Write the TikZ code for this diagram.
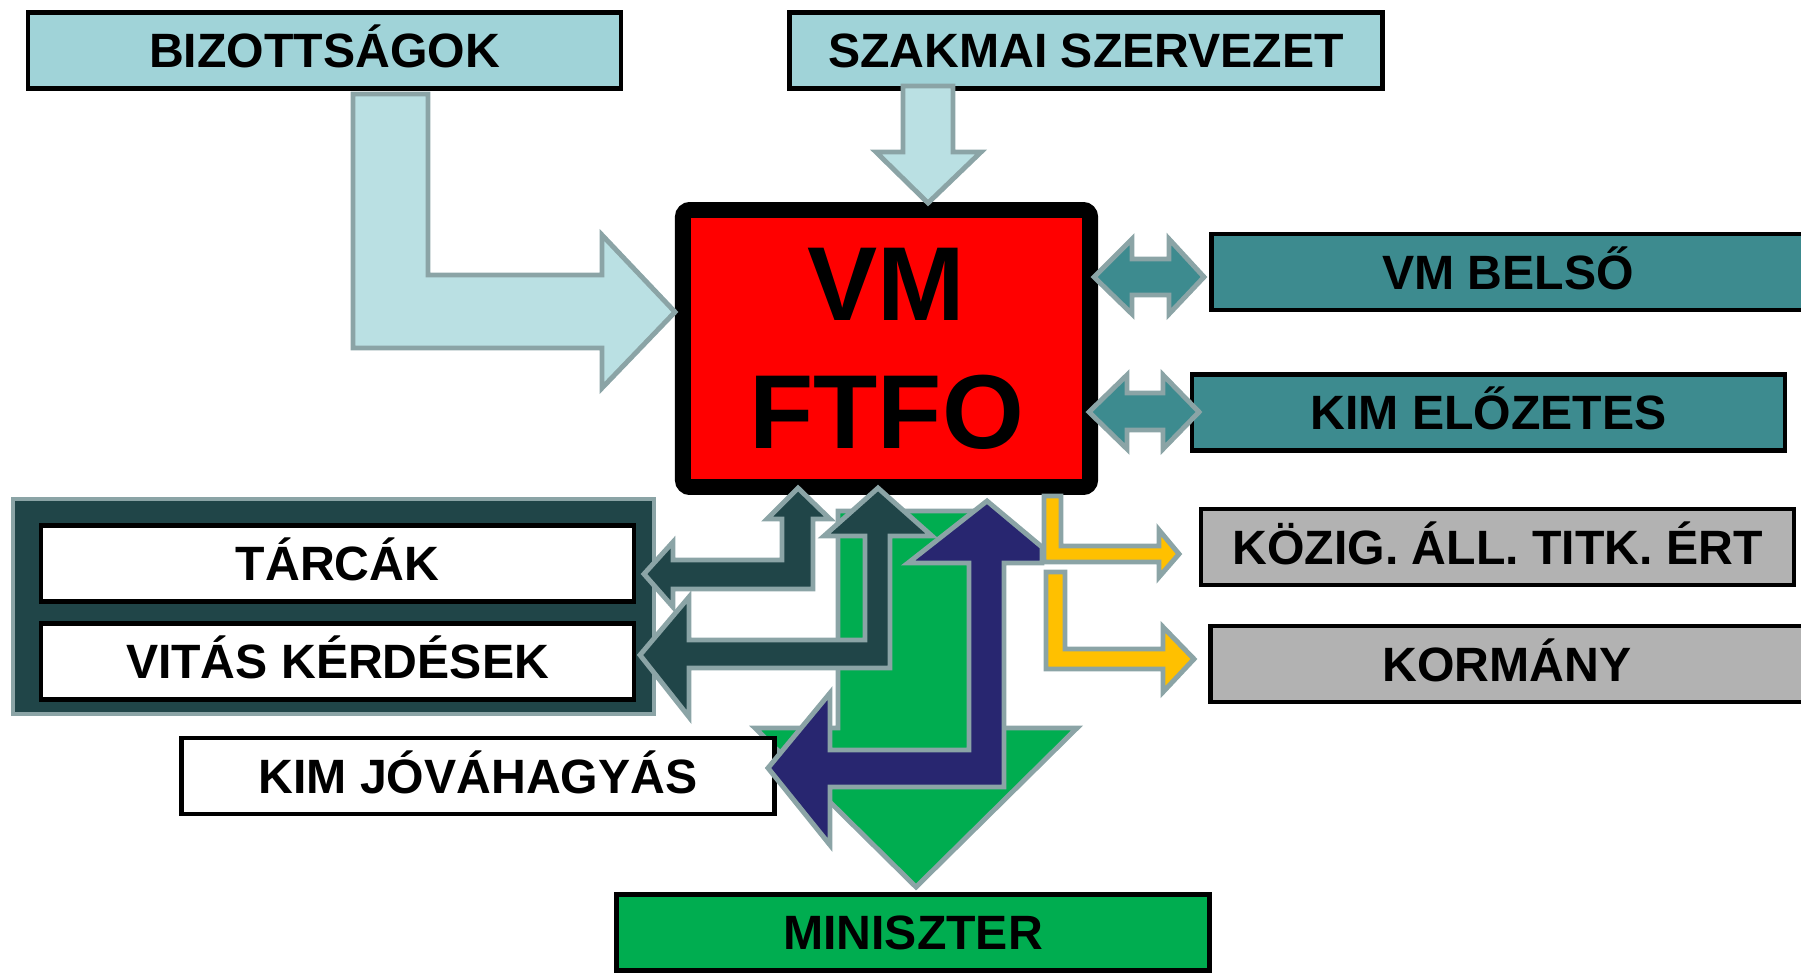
\documentclass[tikz,border=0pt]{standalone}
\usepackage{fontspec}
\setmainfont{Liberation Sans}
\usepackage{tikz}
\definecolor{lightteal}{HTML}{A0D3D8}
\definecolor{paleteal}{HTML}{BAE0E3}
\definecolor{midteal}{HTML}{3D8B8F}
\definecolor{darkteal}{HTML}{204548}
\definecolor{edgegray}{HTML}{8BA4A6}
\definecolor{navy}{HTML}{282670}
\definecolor{mgreen}{HTML}{00AD50}
\definecolor{myellow}{HTML}{FFC000}
\definecolor{boxgray}{HTML}{B2B2B2}
\tikzset{box/.style = {shape=rectangle,draw=black,line width=1.3pt,minimum width=5.93cm,minimum height=0.76cm,inner sep=0pt,text height=0.34cm,text depth=0cm,font=\fontsize{13.7}{16}\selectfont\bfseries}}
\tikzset{blockarrow/.style = {draw=edgegray,line width=1.4pt}}

\begin{document}
\begin{tikzpicture}[x=0.01cm,y=-0.01cm]
                \useasboundingbox (0,0) rectangle (1801,973);

                \node[shape=rectangle,fill=darkteal,draw=edgegray,line width=1.1pt,minimum width=6.41cm,minimum height=2.15cm] (grp) at (333.5,606.5) {};

                \draw[blockarrow,fill=mgreen] (838,511) -- (994,511) -- (994,728) -- (1077,728) -- (916,887) -- (755,728) -- (838,728) -- cycle;

                \node[box,fill=lightteal] (bizott) at (324.5,50.5) {BIZOTTSÁGOK};
                \node[box,fill=lightteal] (szakmai) at (1086,50.5) {SZAKMAI SZERVEZET};
                \node[box,fill=midteal] (belso) at (1508,272) {VM BELSŐ};
                \node[box,fill=midteal] (elozetes) at (1488.5,412.5) {KIM ELŐZETES};
                \node[box,fill=boxgray] (kozig) at (1497.5,547) {KÖZIG. ÁLL. TITK. ÉRT};
                \node[box,fill=boxgray] (kormany) at (1507,664) {KORMÁNY};
                \node[box,fill=white] (tarcak) at (337.5,563.5) {TÁRCÁK};
                \node[box,fill=white] (vitas) at (337.5,661.5) {VITÁS KÉRDÉSEK};
                \node[box,fill=white] (jovahagy) at (478,776) {KIM JÓVÁHAGYÁS};
                \node[box,fill=mgreen] (miniszter) at (913,932.5) {MINISZTER};
                \node[shape=rectangle,draw=black,fill=red,line width=4.5pt,rounded corners=2pt,minimum width=4.07cm,minimum height=2.77cm,align=center,font=\fontsize{29.9}{36.4}\selectfont\bfseries] (ftfo) at (886.5,348.5) {VM\\FTFO};

                \draw[blockarrow,fill=paleteal] (353,94) -- (428,94) -- (428,275) -- (602,275) -- (602,235) -- (675,312) -- (602,388) -- (602,348) -- (353,348) -- cycle;
                \draw[blockarrow,fill=paleteal] (903,86) -- (953,86) -- (953,152) -- (981,152) -- (928,203) -- (876,152) -- (903,152) -- cycle;

                \draw[blockarrow,fill=midteal] (1094,277) -- (1132,239) -- (1132,259) -- (1169,259) -- (1169,239) -- (1204,277) -- (1169,314) -- (1169,295) -- (1132,295) -- (1132,314) -- cycle;
                \draw[blockarrow,fill=midteal] (1089,412) -- (1127,375) -- (1127,393) -- (1163,393) -- (1163,375) -- (1199,412) -- (1163,449) -- (1163,430) -- (1127,430) -- (1127,449) -- cycle;

                \draw[blockarrow,fill=darkteal] (798,488) -- (830,519) -- (813,519) -- (813,589) -- (673,589) -- (673,607) -- (644,574) -- (673,542) -- (673,560) -- (782,560) -- (782,519) -- (767,519) -- cycle;
                \draw[blockarrow,fill=darkteal] (878,488) -- (932,536) -- (890,536) -- (890,668) -- (689,668) -- (689,717) -- (640,655) -- (689,597) -- (689,640) -- (865,640) -- (865,536) -- (824,536) -- cycle;

                \draw[blockarrow,fill=navy] (987,501) -- (1042,547) -- (1042,563) -- (1004,563) -- (1004,787) -- (830,787) -- (830,845) -- (768,768) -- (830,693) -- (830,750) -- (969,750) -- (969,563) -- (908,563) -- cycle;

                \draw[blockarrow,fill=myellow] (1044,496) -- (1061,496) -- (1061,546) -- (1159,546) -- (1159,530) -- (1179,554) -- (1159,577) -- (1159,562) -- (1044,562) -- cycle;
                \draw[blockarrow,fill=myellow] (1046,572) -- (1065,572) -- (1065,649) -- (1163,649) -- (1163,627) -- (1194,659) -- (1163,692) -- (1163,669) -- (1046,669) -- cycle;
            \end{tikzpicture}
\end{document}
